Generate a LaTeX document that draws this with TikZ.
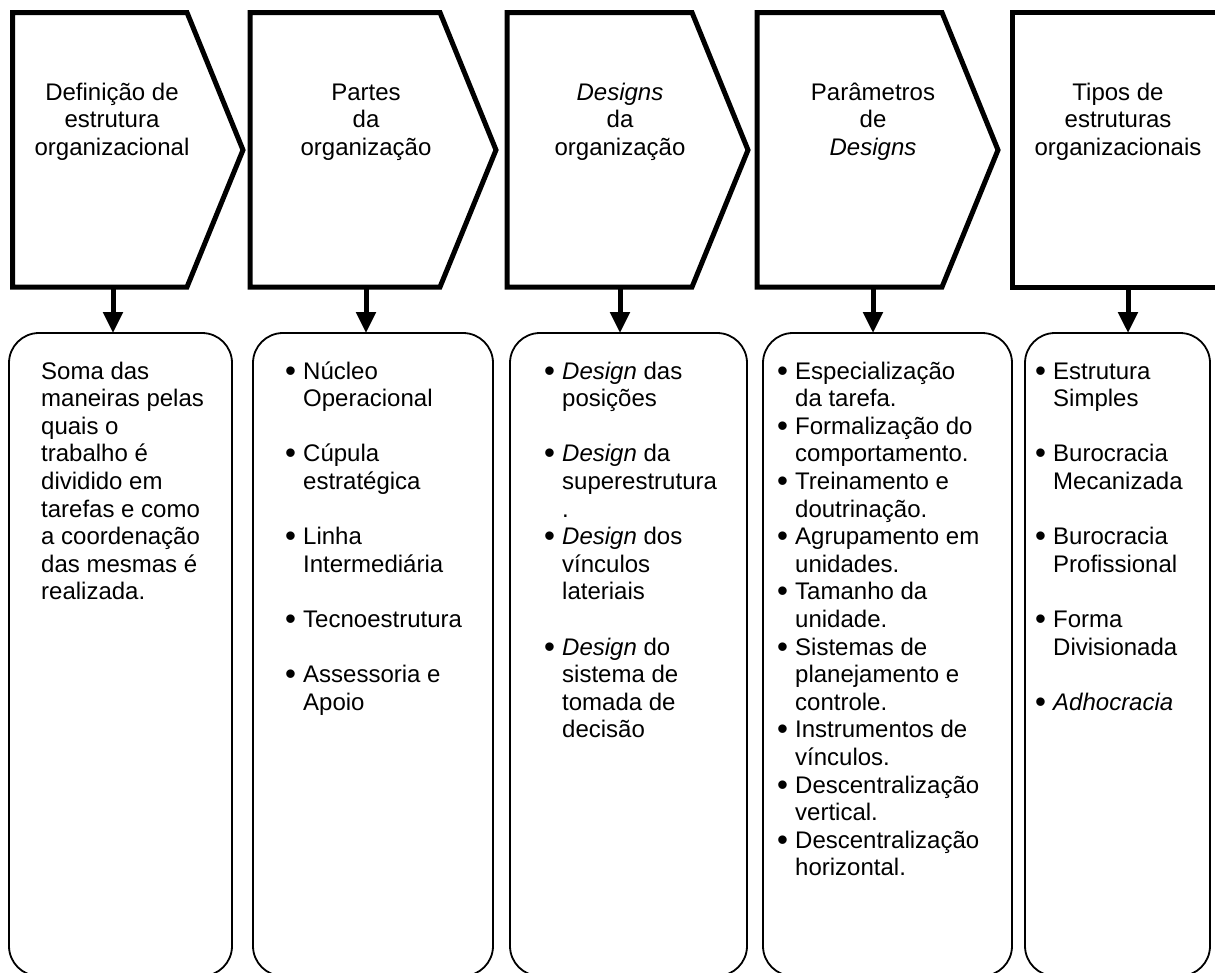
\documentclass[tikz,border=0pt]{standalone}
\usepackage{fontspec}
\usepackage{graphicx}
\setmainfont{Liberation Sans}
\usetikzlibrary{arrows.meta}

% list bullet hanging to the left of the item text
\newcommand\bulletmark{\raisebox{-2pt}{\scalebox{1.3}{\textbullet}}}
\newcommand\bul{\llap{\makebox[18pt][l]{\bulletmark}}}

\begin{document}
\begin{tikzpicture}[x=1pt,y=-1pt,
  chev/.style={draw=black, line width=5pt, line join=miter, fill=white},
  panel/.style={draw=black, line width=1.8pt, rounded corners=30pt,
    rectangle, outer sep=0pt, inner sep=0pt, anchor=north west},
  link/.style={line width=5pt, -{Triangle[width=19pt,length=21pt]}},
  head/.style={anchor=base, inner sep=0pt, font=\fontsize{24}{27.6}\selectfont},
  body/.style={anchor=base west, inner sep=0pt, font=\fontsize{24}{27.6}\selectfont},
]
\useasboundingbox (0,0) rectangle (1215,972);
\clip (0,0) rectangle (1215,972);

% rounded panels below the headers
\node[panel, minimum width=223pt, minimum height=643pt] (b1) at (9,333) {};
\node[panel, minimum width=240pt, minimum height=643pt] (b2) at (253,333) {};
\node[panel, minimum width=237pt, minimum height=643pt] (b3) at (510,333) {};
\node[panel, minimum width=249pt, minimum height=643pt] (b4) at (763,333) {};
\node[panel, minimum width=185pt, minimum height=643pt] (b5) at (1025,333) {};

% chevron headers
\draw[chev] (12.5,12.5) -- (187,12.5) -- (243,150) -- (187,287) -- (12.5,287) -- cycle;
\draw[chev] (250,12.5) -- (440,12.5) -- (496,150) -- (440,287) -- (250,287) -- cycle;
\draw[chev] (507,12.5) -- (692,12.5) -- (748,150) -- (692,287) -- (507,287) -- cycle;
\draw[chev] (757,12.5) -- (942,12.5) -- (998,150) -- (942,287) -- (757,287) -- cycle;
\draw[chev] (1250,12.5) -- (1012,12.5) -- (1012,287) -- (1250,287);

\coordinate (c1) at (113,287);
\coordinate (c2) at (366,287);
\coordinate (c3) at (620,287);
\coordinate (c4) at (873,287);
\coordinate (c5) at (1128,287);

\node[head] (h1) at (112,100) {\begin{tabular}[t]{@{}c@{}}Definição de\\estrutura\\organizacional\end{tabular}};
\node[head] (h2) at (366,100) {\begin{tabular}[t]{@{}c@{}}Partes\\da\\organização\end{tabular}};
\node[head] (h3) at (620,100) {\begin{tabular}[t]{@{}c@{}}\textit{Designs}\\da\\organização\end{tabular}};
\node[head] (h4) at (873,100) {\begin{tabular}[t]{@{}c@{}}Parâmetros\\de\\\textit{Designs}\end{tabular}};
\node[head] (h5) at (1118,100) {\begin{tabular}[t]{@{}c@{}}Tipos de\\estruturas\\organizacionais\end{tabular}};

% connectors from each header to its panel
\draw[link] (c1) -- (c1 |- b1.north);
\draw[link] (c2) -- (c2 |- b2.north);
\draw[link] (c3) -- (c3 |- b3.north);
\draw[link] (c4) -- (c4 |- b4.north);
\draw[link] (c5) -- (c5 |- b5.north);

% panel contents
\node[body] (t1) at (41,379) {\begin{tabular}[t]{@{}l@{}}Soma das\\maneiras pelas\\quais o\\trabalho é\\dividido em\\tarefas e como\\a coordenação\\das mesmas é\\realizada.\end{tabular}};

\node[body] (t2) at (303,379) {\begin{tabular}[t]{@{}l@{}}\bul Núcleo\\Operacional\\ \\
\bul Cúpula\\estratégica\\ \\
\bul Linha\\Intermediária\\ \\
\bul Tecnoestrutura\\ \\
\bul Assessoria e\\Apoio\end{tabular}};

\node[body] (t3) at (562,379) {\begin{tabular}[t]{@{}l@{}}\bul \textit{Design} das\\posições\\ \\
\bul \textit{Design} da\\superestrutura\\.\\
\bul \textit{Design} dos\\vínculos\\lateriais\\ \\
\bul \textit{Design} do\\sistema de\\tomada de\\decisão\end{tabular}};

\node[body] (t4) at (795,379) {\begin{tabular}[t]{@{}l@{}}\bul Especialização\\da tarefa.\\
\bul Formalização do\\comportamento.\\
\bul Treinamento e\\doutrinação.\\
\bul Agrupamento em\\unidades.\\
\bul Tamanho da\\unidade.\\
\bul Sistemas de\\planejamento e\\controle.\\
\bul Instrumentos de\\vínculos.\\
\bul Descentralização\\vertical.\\
\bul Descentralização\\horizontal.\end{tabular}};

\node[body] (t5) at (1053,379) {\begin{tabular}[t]{@{}l@{}}\bul Estrutura\\Simples\\ \\
\bul Burocracia\\Mecanizada\\ \\
\bul Burocracia\\Profissional\\ \\
\bul Forma\\Divisionada\\ \\
\bul \textit{Adhocracia}\end{tabular}};
\end{tikzpicture}
\end{document}
